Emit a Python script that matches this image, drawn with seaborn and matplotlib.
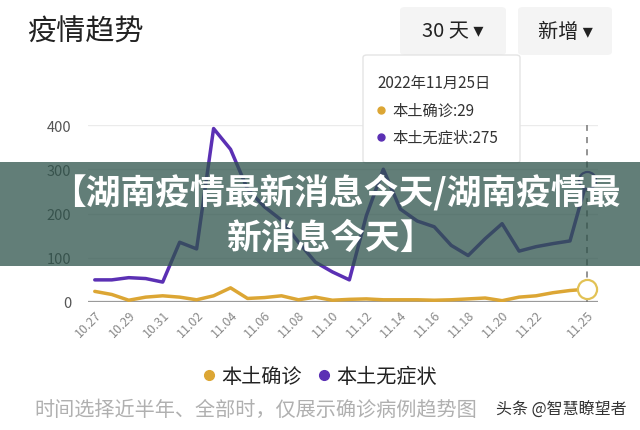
import matplotlib
matplotlib.use("Agg")
import matplotlib.pyplot as plt
import seaborn as sns
import pandas as pd
from matplotlib.patches import FancyBboxPatch, Rectangle
from matplotlib.lines import Line2D

# 数据 (2022.10.27 - 2022.11.25, 湖南每日新增)
dates = ["10.27", "10.28", "10.29", "10.30", "10.31", "11.01", "11.02", "11.03",
         "11.04", "11.05", "11.06", "11.07", "11.08", "11.09", "11.10", "11.11",
         "11.12", "11.13", "11.14", "11.15", "11.16", "11.17", "11.18", "11.19",
         "11.20", "11.21", "11.22", "11.23", "11.24", "11.25"]
confirmed = [24, 17, 4, 11, 14, 11, 5, 14, 32, 8, 10, 14, 5, 11, 4,
             6, 7, 5, 5, 5, 4, 5, 7, 9, 3, 11, 14, 21, 26, 29]
asymptomatic = [50, 50, 55, 53, 45, 135, 120, 392, 345, 255, 215, 185, 135, 90, 68,
                50, 195, 300, 210, 183, 170, 128, 105, 143, 177, 115, 125, 132, 138, 275]
tick_labels = ["10.27", "10.29", "10.31", "11.02", "11.04", "11.06", "11.08", "11.10",
               "11.12", "11.14", "11.16", "11.18", "11.20", "11.22", "11.25"]
y_ticks = [0, 100, 200, 300, 400]

sns.set_theme(style="white")
plt.rcParams['font.family'] = ['Noto Sans CJK SC', 'DejaVu Sans']

yellow = "#dca634"
purple = "#5b30b4"

df = pd.DataFrame({"idx": range(len(dates)), "date": dates,
                   "confirmed": confirmed, "asymptomatic": asymptomatic})

W, H = 640, 431
fig = plt.figure(figsize=(6.4, 4.31), dpi=100)
fig.patch.set_facecolor("white")


def fx(x):
    return x / W


def fy(y):
    return 1 - y / H


ax = fig.add_axes([fx(88), fy(303), 510 / W, 177 / H])
ax.set_facecolor("white")

for v in y_ticks[1:]:
    ax.axhline(v, color="#ebebeb", lw=1, zorder=0)
ax.axhline(0, color="#9a9a9a", lw=1.6, zorder=1)

sns.lineplot(data=df, x="idx", y="confirmed", color=yellow, lw=2.5, ax=ax, zorder=3)
sns.lineplot(data=df, x="idx", y="asymptomatic", color=purple, lw=2.5, ax=ax, zorder=3)

last = df["idx"].iloc[-1]
ax.vlines(last, 0, 400, colors="#777777", linestyles=(0, (4, 4)), lw=1.1, zorder=2)
ax.scatter([last], [confirmed[-1]], s=190, facecolor="white", edgecolor="#e2c255",
           lw=1.6, zorder=5, clip_on=False)
ax.scatter([last], [asymptomatic[-1]], s=150, facecolor="white", edgecolor=purple,
           lw=1.6, zorder=5, clip_on=False)

ax.set_xlim(-0.4, 29.65)
ax.set_ylim(0, 400)
ax.set_yticks(y_ticks)
ax.set_yticklabels([str(v) for v in y_ticks], fontsize=10.5, color="#555555")
tick_pos = [dates.index(t) for t in tick_labels]
ax.set_xticks(tick_pos)
ax.set_xticklabels(tick_labels, rotation=45, ha="right", va="top",
                   rotation_mode="anchor", fontsize=9, color="#8a8a8a")
ax.tick_params(axis="y", length=0, pad=12)
ax.tick_params(axis="x", length=0, pad=4)
ax.set_xlabel("")
ax.set_ylabel("")
for s in ax.spines.values():
    s.set_visible(False)

# 标题和按钮
fig.text(fx(27), fy(33), "疫情趋势", fontsize=21, color="#222222", va="center", ha="left")
for x0, x1, label in [(400, 506, "30 天 ▾"), (518, 612, "新增 ▾")]:
    fig.patches.append(FancyBboxPatch((fx(x0), fy(56)), fx(x1 - x0), (56 - 8) / H,
                                      boxstyle="round,pad=0,rounding_size=0.008",
                                      transform=fig.transFigure, facecolor="#f4f4f4",
                                      edgecolor="none", zorder=1))
    fig.text(fx((x0 + x1) / 2), fy(32), label, fontsize=14.5, color="#222222",
             ha="center", va="center", family=['Noto Sans CJK SC', 'DejaVu Sans'])

# 提示框
fig.patches.append(FancyBboxPatch((fx(363), fy(164)), fx(157), (164 - 56) / H,
                                  boxstyle="round,pad=0,rounding_size=0.006",
                                  transform=fig.transFigure, facecolor="white",
                                  edgecolor="#e4e4e4", lw=1, zorder=2))
fig.text(fx(377), fy(83), "2022年11月25日", fontsize=11, color="#333333", va="center", zorder=3)
fig.text(fx(392), fy(111), f"本土确诊:{confirmed[-1]}", fontsize=11, color="#333333",
         va="center", zorder=3)
fig.text(fx(392), fy(138), f"本土无症状:{asymptomatic[-1]}", fontsize=11, color="#333333",
         va="center", zorder=3)
fig.add_artist(Line2D([fx(381)], [fy(111)], marker="o", ms=5, color=yellow,
                      transform=fig.transFigure, zorder=3))
fig.add_artist(Line2D([fx(381)], [fy(138)], marker="o", ms=5, color=purple,
                      transform=fig.transFigure, zorder=3))

# 图例
handles = [Line2D([], [], marker="o", ls="", ms=7, color=yellow),
           Line2D([], [], marker="o", ls="", ms=7, color=purple)]
fig.legend(handles, ["本土确诊", "本土无症状"], loc="center", bbox_to_anchor=(fx(318), fy(378)),
           ncol=2, frameon=False, fontsize=14.5, handletextpad=0.1, columnspacing=0.6,
           handlelength=1.0, labelcolor="#222222")

# 底部说明
fig.text(fx(34), fy(410), "时间选择近半年、全部时，仅展示确诊病例趋势图", fontsize=14.5,
         color="#b0b0b0", va="center", ha="left")
fig.text(fx(627), fy(410), "头条 @智慧瞭望者", fontsize=11.5, color="#333333",
         va="center", ha="right")

# 标题横幅
fig.patches.append(Rectangle((0, fy(267)), 1, (267 - 163) / H, transform=fig.transFigure,
                             facecolor="#2e534b", alpha=0.75, edgecolor="none", zorder=10))
fig.text(fx(336), fy(192), "【湖南疫情最新消息今天/湖南疫情最", fontsize=25,
         fontweight="black", color="white", ha="center", va="center", zorder=11)
fig.text(fx(330), fy(238), "新消息今天】", fontsize=25, fontweight="black",
         color="white", ha="center", va="center", zorder=11)

fig.savefig("out.png", dpi=100, facecolor="white")
